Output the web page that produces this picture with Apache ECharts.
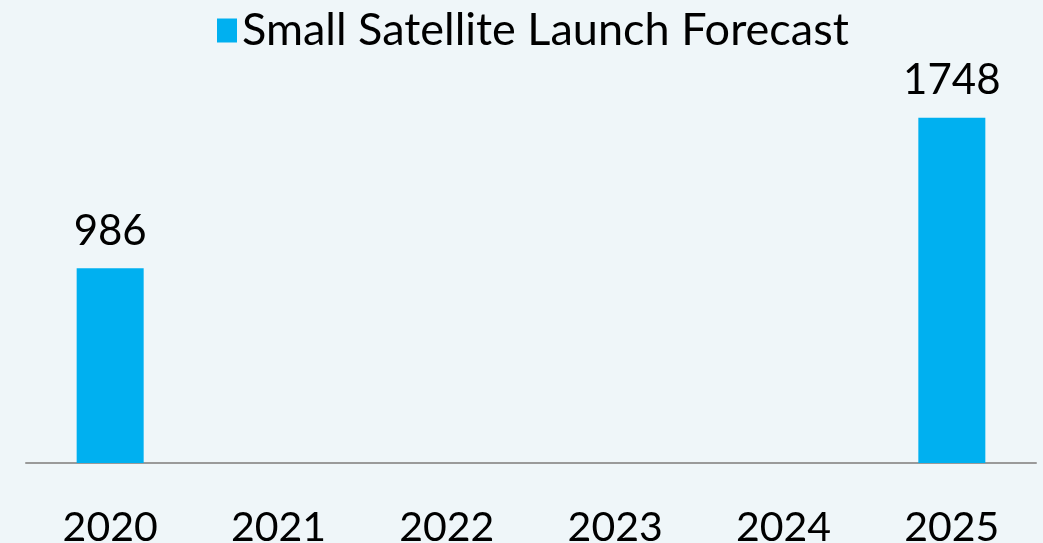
<!DOCTYPE html>
<html>
<head>
<meta charset="utf-8">
<script src="https://cdn.jsdelivr.net/npm/echarts@6/dist/echarts.min.js"></script>
<style>
  html, body { margin: 0; padding: 0; background: #EFF6F9; }
  #chart { width: 1043px; height: 543px; }
</style>
</head>
<body>
<div id="chart"></div>
<script>
// Forecast years and launch counts (only 2020 and 2025 have values)
const years = ['2020', '2021', '2022', '2023', '2024', '2025'];
const launches = [986, null, null, null, null, 1748];
const seriesName = 'Small Satellite Launch Forecast';

const chart = echarts.init(document.getElementById('chart'));
const font = 'Lato, "Open Sans", sans-serif';

chart.setOption({
  backgroundColor: '#EFF6F9',
  animation: false,
  legend: {
    data: [seriesName],
    top: 3,
    left: 212,
    icon: 'rect',
    itemWidth: 20,
    itemHeight: 24,
    itemGap: 10,
    textStyle: { fontFamily: font, fontSize: 45, color: '#000' }
  },
  grid: {
    left: 26, right: 7, top: 68, bottom: 80,
    containLabel: false,
    outerBoundsMode: 'none'
  },
  xAxis: {
    type: 'category',
    data: years,
    axisLine: { lineStyle: { color: '#9a9a9a', width: 2 } },
    axisTick: { show: false },
    axisLabel: { fontFamily: font, fontSize: 41, color: '#000', margin: 44 }
  },
  yAxis: {
    type: 'value',
    min: 0,
    max: 2000,
    show: false,
    splitLine: { show: false }
  },
  series: [{
    name: seriesName,
    type: 'bar',
    data: launches,
    barWidth: 67,
    itemStyle: { color: '#00B0F0' },
    label: {
      show: true,
      position: 'top',
      distance: 16,
      fontFamily: font,
      fontSize: 42,
      color: '#000'
    }
  }]
});
</script>
</body>
</html>
